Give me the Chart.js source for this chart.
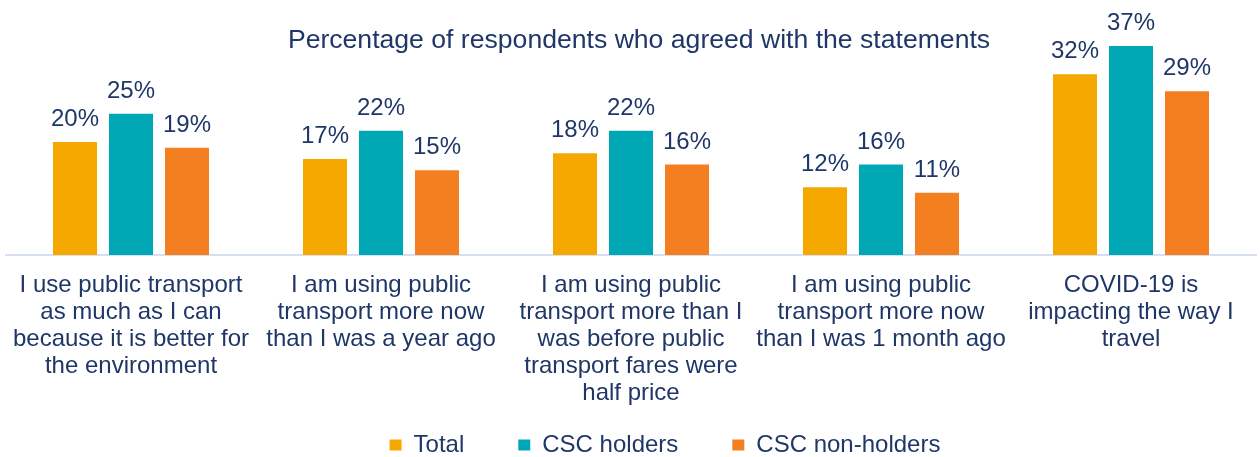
<!DOCTYPE html>
<html>
<head>
<meta charset="utf-8">
<script src="https://cdn.jsdelivr.net/npm/chart.js@4"></script>
<style>
  html, body { margin: 0; padding: 0; background: #fff; }
  #wrap { width: 1260px; height: 457px; position: relative; }
</style>
</head>
<body>
<div id="wrap"><canvas id="surveyChart"></canvas></div>
<script>
// data
const categories = [
    ['I use public transport', 'as much as I can', 'because it is better for', 'the environment'],
    ['I am using public', 'transport more now', 'than I was a year ago'],
    ['I am using public', 'transport more than I', 'was before public', 'transport fares were', 'half price'],
    ['I am using public', 'transport more now', 'than I was 1 month ago'],
    ['COVID-19 is', 'impacting the way I', 'travel']
];
const totalValues = [20, 17, 18, 12, 32];
const holderValues = [25, 22, 22, 16, 37];
const nonHolderValues = [19, 15, 16, 11, 29];
const seriesNames = ['Total', 'CSC holders', 'CSC non-holders'];

const navy = '#1F3768';
const fontFamily = '"Liberation Sans", Arial, sans-serif';

// value labels above the bars + the heading
const labelPlugin = {
    id: 'barLabels',
    afterLayout(chart) {
        // legend sits higher / further right than chart.js puts it
        const lg = chart.legend;
        const dx = 34, dy = -31;
        lg.left += dx; lg.right += dx;
        lg.top += dy; lg.bottom += dy;
    },
    afterDatasetsDraw(chart) {
        const ctx = chart.ctx;
        ctx.save();
        ctx.fillStyle = navy;
        ctx.font = '24px ' + fontFamily;
        ctx.textAlign = 'center';
        ctx.textBaseline = 'alphabetic';
        chart.data.datasets.forEach((ds, i) => {
            chart.getDatasetMeta(i).data.forEach((bar, j) => {
                ctx.fillText(ds.data[j] + '%', bar.x, bar.y - 16);
            });
        });
        ctx.font = '26.6px ' + fontFamily;
        ctx.fillText('Percentage of respondents who agreed with the statements', 639, 48);
        ctx.restore();
    }
};

const ctx = document.getElementById('surveyChart').getContext('2d');
const surveyChart = new Chart(ctx, {
    type: 'bar',
    data: {
        labels: categories,
        datasets: [
            { label: seriesNames[0], data: totalValues, backgroundColor: '#F5A800' },
            { label: seriesNames[1], data: holderValues, backgroundColor: '#00A8B5' },
            { label: seriesNames[2], data: nonHolderValues, backgroundColor: '#F47F20' }
        ]
    },
    options: {
        responsive: true,
        maintainAspectRatio: false,
        animation: false,
        categoryPercentage: 0.672,
        barPercentage: 0.786,
        layout: { padding: { top: 29, left: 6, right: 4, bottom: -41 } },
        plugins: {
            legend: {
                position: 'bottom',
                labels: {
                    boxWidth: 12,
                    boxHeight: 11,
                    padding: 54,
                    color: navy,
                    font: { size: 24, family: fontFamily }
                }
            },
            tooltip: { enabled: false }
        },
        scales: {
            x: {
                grid: { display: false, drawTicks: false },
                border: { display: true, color: '#D6E0F2', width: 2 },
                ticks: {
                    color: navy,
                    padding: 17,
                    autoSkip: false,
                    maxRotation: 0,
                    font: { size: 24, family: fontFamily, lineHeight: 1.125 }
                },
                afterFit(scale) {
                    scale.height = 155;
                    scale.paddingLeft = 0;
                    scale.paddingRight = 0;
                }
            },
            y: {
                display: false,
                min: 0,
                max: 40
            }
        }
    },
    plugins: [labelPlugin]
});
</script>
</body>
</html>
